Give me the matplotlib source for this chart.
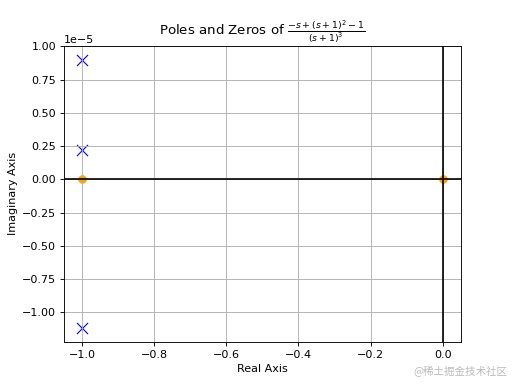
import numpy as np
import matplotlib.pyplot as plt

# poles of 1/(s+1)^3 as found numerically (tiny imaginary parts from rounding)
pole_re = [-1.0, -1.0, -1.0]
pole_im = [0.901e-5, 0.218e-5, -1.12e-5]

# zeros of -s + (s+1)^2 - 1
zero_re = [-1.0, 0.0]
zero_im = [0.0, 0.0]

fig = plt.figure(figsize=(6.4, 4.8), dpi=80)
ax = fig.add_subplot(111)

ax.scatter(pole_re, pole_im, marker='x', color='blue', s=100, linewidths=1)
ax.scatter(zero_re, zero_im, marker='o', color='orange', s=45)

ax.axhline(0, color='black')
ax.axvline(0, color='black')
ax.grid(True)

ax.set_xlabel('Real Axis')
ax.set_ylabel('Imaginary Axis')
ax.set_title(r'Poles and Zeros of $\frac{-s+(s+1)^2-1}{(s+1)^3}$')

fig.text(0.99, 0.018, '@稀土掘金技术社区', ha='right', va='bottom',
         color='#bbbbbb', fontsize=9.5, family=['Noto Sans CJK SC', 'DejaVu Sans'])

fig.savefig('out.png', dpi=80)
